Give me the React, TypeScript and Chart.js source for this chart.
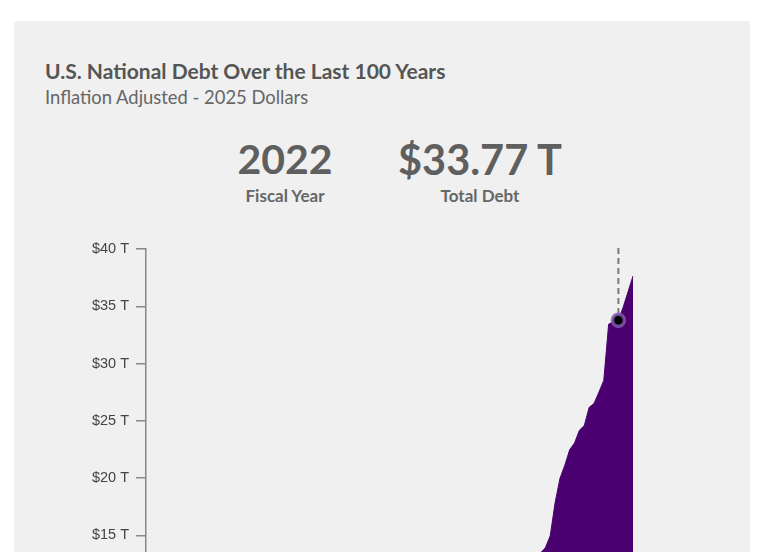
import React, { useEffect, useRef } from "react";
import { Chart, registerables } from "chart.js";

Chart.register(...registerables);

const years: string[] = [];
for (let y = 1925; y <= 2025; y++) years.push(String(y));

// Total public debt, trillions of 2025 dollars (inflation adjusted)
const debtTrillions: number[] = [
  0.376, 0.355, 0.341, 0.33, 0.317, 0.311, 0.355, 0.457, 0.556, 0.649,
  0.672, 0.78, 0.811, 0.847, 0.933, 0.986, 1.07, 1.426, 2.536, 3.666,
  4.613, 4.435, 3.718, 3.36, 3.41, 3.428, 3.151, 3.139, 3.2, 3.237,
  3.287, 3.22, 3.09, 3.07, 3.14, 3.105, 3.1, 3.17, 3.21, 3.23,
  3.23, 3.17, 3.135, 3.21, 3.09, 3.07, 3.155, 3.28, 3.31, 3.09,
  3.18, 3.5, 3.7, 3.8, 3.65, 3.54, 3.52, 3.8, 4.44, 4.86,
  5.44, 6.22, 6.64, 7.06, 7.4, 7.94, 8.64, 9.3, 9.8, 10.16,
  10.48, 10.69, 10.83, 10.88, 10.9, 10.58, 10.53, 11.11, 11.83, 12.54,
  13.04, 13.45, 13.9, 14.94, 17.83, 19.96, 21.11, 22.47, 23.06, 24.17,
  24.58, 26.17, 26.51, 27.5, 28.52, 33.43, 33.67, 33.77, 34.94, 36.29,
  37.64,
];

const yTicks: number[] = [0, 5, 10, 15, 20, 25, 30, 35, 40];
const selectedYear = "2022";
const selectedDebt = 33.77;

export default function App() {
  const ref = useRef<HTMLCanvasElement | null>(null);

  useEffect(() => {
    if (!ref.current) return;
    const selIdx = years.indexOf(selectedYear);
    const markerData = years.map((y, i) => (i === selIdx ? debtTrillions[i] : null));

    const dashPlugin = {
      id: "dashLine",
      afterDatasetsDraw(chart: any) {
        const meta = chart.getDatasetMeta(1);
        const pt = meta.data[selIdx];
        if (!pt) return;
        const ctx = chart.ctx;
        ctx.save();
        ctx.strokeStyle = "#7a7a7a";
        ctx.lineWidth = 2;
        ctx.setLineDash([6, 4]);
        ctx.beginPath();
        ctx.moveTo(pt.x, chart.chartArea.top - 1);
        ctx.lineTo(pt.x, pt.y - 6);
        ctx.stroke();
        ctx.restore();
        pt.draw(ctx, chart.chartArea);
      },
    };

    const chart = new Chart(ref.current, {
      type: "line",
      data: {
        labels: years,
        datasets: [
          {
            data: debtTrillions,
            fill: "origin",
            backgroundColor: "#4b0070",
            borderColor: "#4b0070",
            borderWidth: 1,
            pointRadius: 0,
            tension: 0,
          },
          {
            data: markerData,
            showLine: false,
            pointRadius: 6,
            pointBackgroundColor: "#000000",
            pointBorderColor: "rgba(145,105,195,0.7)",
            pointBorderWidth: 3.5,
          },
        ],
      },
      options: {
        animation: false,
        responsive: false,
        maintainAspectRatio: false,
        layout: { padding: { top: 18, right: 27, left: 0, bottom: 0 } },
        plugins: { legend: { display: false }, tooltip: { enabled: false } },
        scales: {
          x: {
            grid: { display: false },
            border: { color: "#888888", width: 1.5 },
            ticks: {
              color: "#444444",
              font: { family: "'Liberation Sans', Arial, sans-serif", size: 14 },
              autoSkip: false,
              maxRotation: 0,
              callback: (_v: any, i: number) => ((1925 + i) % 20 === 0 ? String(1925 + i) : ""),
            },
            afterFit: (s: any) => {
              s.height = 40;
            },
          },
          y: {
            min: 0,
            max: 40,
            afterBuildTicks: (s: any) => {
              s.ticks = yTicks.map((v) => ({ value: v }));
            },
            grid: {
              drawOnChartArea: false,
              drawTicks: true,
              tickLength: 10,
              color: "#888888",
              lineWidth: 1.5,
            },
            border: { color: "#888888", width: 1.5 },
            ticks: {
              padding: 7,
              color: "#444444",
              font: { family: "'Liberation Sans', Arial, sans-serif", size: 14.5 },
              callback: (v: any) => "$" + v + " T",
            },
            afterFit: (s: any) => {
              s.width = 106;
            },
          },
        },
      },
      plugins: [dashPlugin],
    });
    return () => chart.destroy();
  }, []);

  const font = "Lato, 'Open Sans', sans-serif";

  return (
    <div
      style={{
        position: "absolute",
        left: 14,
        top: 21,
        width: 736,
        height: 760,
        background: "#f0f0f0",
        borderRadius: 3,
        fontFamily: font,
      }}
    >
      <div
        style={{
          position: "absolute",
          left: 31,
          top: 36,
          fontSize: 21,
          lineHeight: "28px",
          fontWeight: 700,
          color: "#555555",
          whiteSpace: "nowrap",
        }}
      >
        U.S. National Debt Over the Last 100 Years
      </div>
      <div
        style={{
          position: "absolute",
          left: 31,
          top: 64,
          fontSize: 18.4,
          lineHeight: "24px",
          color: "#666666",
          whiteSpace: "nowrap",
        }}
      >
        Inflation Adjusted - 2025 Dollars
      </div>
      <div
        style={{
          position: "absolute",
          left: 171,
          width: 200,
          top: 113,
          textAlign: "center",
          fontSize: 41,
          lineHeight: "50px",
          fontWeight: 700,
          color: "#5f5f5f",
        }}
      >
        {selectedYear}
      </div>
      <div
        style={{
          position: "absolute",
          left: 171,
          width: 200,
          top: 164,
          textAlign: "center",
          fontSize: 17,
          lineHeight: "22px",
          fontWeight: 700,
          color: "#666666",
        }}
      >
        Fiscal Year
      </div>
      <div
        style={{
          position: "absolute",
          left: 366,
          width: 200,
          top: 113,
          textAlign: "center",
          fontSize: 41.5,
          lineHeight: "50px",
          fontWeight: 700,
          color: "#5f5f5f",
        }}
      >
        {"$" + selectedDebt.toFixed(2) + " T"}
      </div>
      <div
        style={{
          position: "absolute",
          left: 366,
          width: 200,
          top: 164,
          textAlign: "center",
          fontSize: 17,
          lineHeight: "22px",
          fontWeight: 700,
          color: "#666666",
        }}
      >
        Total Debt
      </div>
      <canvas
        ref={ref}
        width={620}
        height={516}
        style={{ position: "absolute", left: 26, top: 210, width: 620, height: 516 }}
      />
    </div>
  );
}
